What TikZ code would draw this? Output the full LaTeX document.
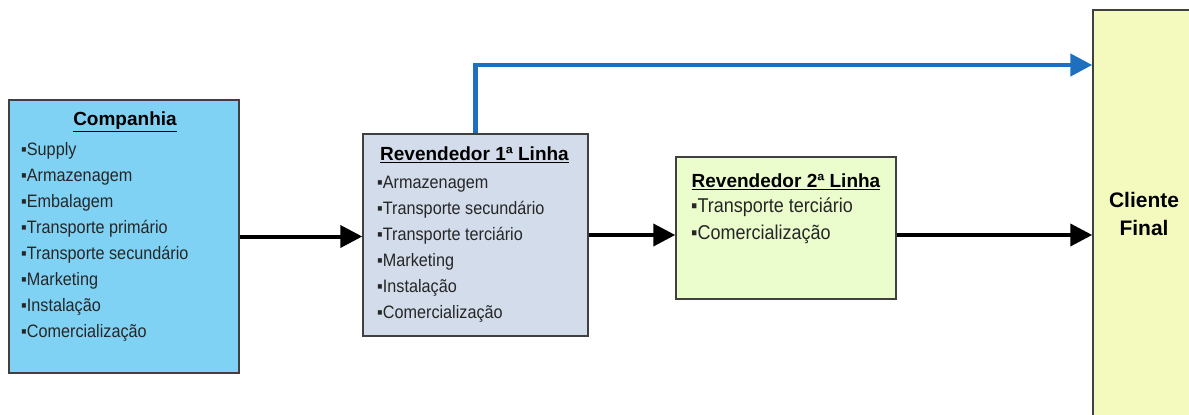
\documentclass[tikz,border=0pt]{standalone}
\usepackage{fontspec}
\setmainfont{Liberation Sans}
\newfontfamily\estreita[FakeStretch=0.9]{Liberation Sans}
\usetikzlibrary{arrows.meta}
\usetikzlibrary{calc}
\definecolor{azulcia}{RGB}{128,210,245}
\definecolor{cinzarev}{RGB}{211,220,234}
\definecolor{verderev}{RGB}{235,252,205}
\definecolor{amarelocli}{RGB}{244,250,190}
\definecolor{azulseta}{RGB}{30,112,190}
\tikzset{caixa/.style={draw=black!75, line width=1.5pt, inner sep=0pt}}
\tikzset{titulo/.style={font=\fontsize{19}{19}\selectfont\bfseries, inner sep=0pt}}
\tikzset{lista/.style={font=\estreita\fontsize{18}{26}\selectfont, text=black!85, align=left, inner sep=0pt, anchor=north west}}
\tikzset{
seta/.style={line width=4pt, -{Triangle[length=22pt, width=22pt]}}, setaazul/.style={seta, draw=azulseta, line width=4.5pt}
}

\begin{document}
\begin{tikzpicture}[x=1pt, y=-1pt]
    \useasboundingbox (0,0) rectangle (1189,415);
    \node [caixa, fill=azulcia, minimum width=230, minimum height=273] (cia) at (124,236.5) {};
    \node [titulo] (ciaT) at (125,122) {\underline{Companhia}};
    \node [lista] (ciaL) at (21,142.5) {▪Supply\\▪Armazenagem\\▪Embalagem\\▪Transporte primário\\▪Transporte secundário\\▪Marketing\\▪Instalação\\▪Comercialização};
    \node [caixa, fill=cinzarev, minimum width=225, minimum height=202] (rev1) at (475.5,235) {};
    \node [titulo] (rev1T) at (474.5,155) {\underline{Revendedor 1ª Linha}};
    \node [lista] (rev1L) at (377,175.5) {▪Armazenagem\\▪Transporte secundário\\▪Transporte terciário\\▪Marketing\\▪Instalação\\▪Comercialização};
    \node [caixa, fill=verderev, minimum width=220, minimum height=142] (rev2) at (786,228) {};
    \node [titulo] (rev2T) at (786,182) {\underline{Revendedor 2ª Linha}};
    \node [lista, font=\estreita\fontsize{20}{27}\selectfont] (rev2L) at (691,198) {▪Transporte terciário\\▪Comercialização};
    \node [caixa, fill=amarelocli, minimum width=102, minimum height=408, align=center, font=\fontsize{21}{28}\selectfont\bfseries] (cli) at (1144,214) {Cliente\\Final};
    \coordinate (topo) at (0,65);
    \draw[seta] (cia.east) -- (cia.east -| rev1.west);
    \draw[seta] (rev1.east) -- (rev1.east -| rev2.west);
    \draw[seta] (rev1.east -| rev2.east) -- (rev1.east -| cli.west);
    \draw[setaazul] (rev1.north) |- (topo -| cli.west);
  \end{tikzpicture}
\end{document}
